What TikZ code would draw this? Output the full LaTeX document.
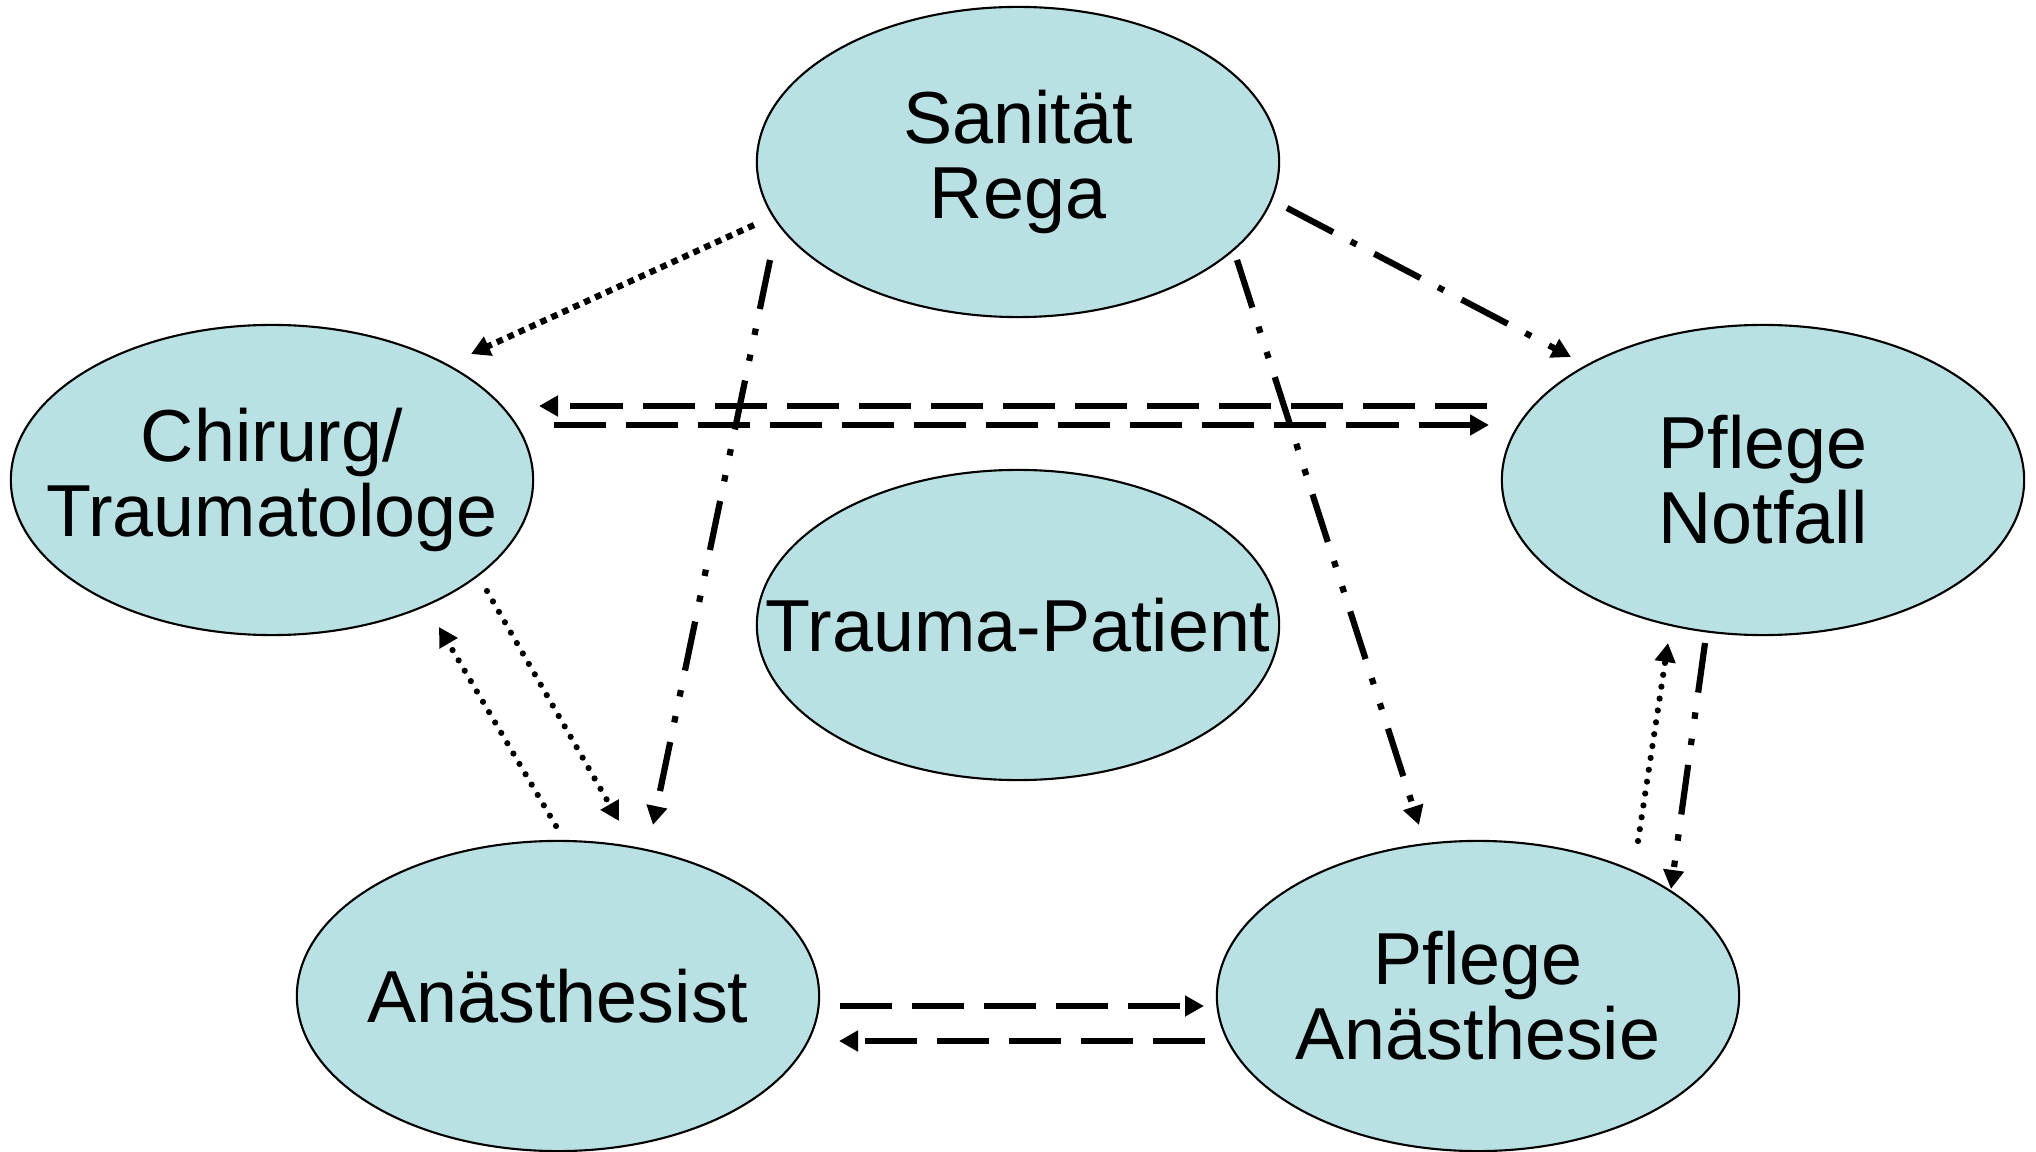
\documentclass[tikz,border=0pt]{standalone}
\usepackage{fontspec}
\setmainfont{Liberation Sans}
\usetikzlibrary{shapes.geometric,arrows.meta}
\definecolor{fillc}{RGB}{185,224,227}
\begin{document}
\begin{tikzpicture}[x=0.01cm,y=-0.01cm,
  elli/.style={ellipse, draw=black, line width=0.6pt, fill=fillc, minimum width=5.22cm, minimum height=3.1cm, inner sep=0pt},
  lbl/.style={align=center, font=\fontsize{20.95}{21.3}\selectfont, inner sep=0pt},
  conn/.style={line width=0.062cm, -{Triangle[length=0.19cm,width=0.2cm]}},
  sqdot/.style={conn, dash pattern=on 0.065cm off 0.055cm},
  rdot/.style={conn, line cap=round, dash pattern=on 0pt off 0.12cm},
  dashl/.style={conn, dash pattern=on 0.52cm off 0.2cm},
  ddot/.style={conn, dash pattern=on 0.5cm off 0.2cm on 0.065cm off 0.2cm on 0.065cm off 0.2cm},
  ddash/.style={conn, dash pattern=on 0.52cm off 0.2cm on 0.065cm off 0.2cm}]
\fill[white] (0,0) rectangle (2036,1152);
\useasboundingbox (0,0) rectangle (2036,1152);

\node[elli] (san) at (1018,162) {};
\node[lbl] at (san) {Sanität\\Rega};
\node[elli] (chir) at (272,480) {};
\node[lbl] at (chir) {Chirurg/\\Traumatologe};
\node[elli] (notf) at (1763,480) {};
\node[lbl] at (notf) {Pflege\\Notfall};
\node[elli] (pat) at (1018,625) {};
\node[lbl] at (pat) {Trauma-Patient};
\node[elli] (anae) at (558,996) {};
\node[lbl] at (anae) {Anästhesist};
\node[elli] (pan) at (1478,996) {};
\node[lbl] at (pan) {Pflege\\Anästhesie};

\coordinate (sc-a) at (754,225);  \coordinate (sc-b) at (471,354);
\coordinate (sa-a) at (770,260);  \coordinate (sa-b) at (653,825);
\coordinate (sp-a) at (1237,260); \coordinate (sp-b) at (1419,825);
\coordinate (sn-a) at (1287,208); \coordinate (sn-b) at (1571,357);
\coordinate (nc-a) at (1487,406); \coordinate (nc-b) at (539,406);
\coordinate (cn-a) at (554,425);  \coordinate (cn-b) at (1489,425);
\coordinate (ca-a) at (487,591);  \coordinate (ca-b) at (619,821);
\coordinate (ac-a) at (556,826);  \coordinate (ac-b) at (439,627);
\coordinate (np-a) at (1705,643); \coordinate (np-b) at (1671,889);
\coordinate (pn-a) at (1638,841); \coordinate (pn-b) at (1668,643);
\coordinate (ap-a) at (840,1006); \coordinate (ap-b) at (1204,1006);
\coordinate (pa-a) at (1205,1041); \coordinate (pa-b) at (839,1041);

\draw[sqdot] (sc-a) -- (sc-b);
\draw[ddot] (sa-a) -- (sa-b);
\draw[ddot] (sp-a) -- (sp-b);
\draw[ddash] (sn-a) -- (sn-b);
\draw[dashl] (nc-a) -- (nc-b);
\draw[dashl] (cn-a) -- (cn-b);
\draw[rdot] (ca-a) -- (ca-b);
\draw[rdot] (ac-a) -- (ac-b);
\draw[ddot] (np-a) -- (np-b);
\draw[rdot] (pn-a) -- (pn-b);
\draw[dashl] (ap-a) -- (ap-b);
\draw[dashl] (pa-a) -- (pa-b);
\end{tikzpicture}
\end{document}
